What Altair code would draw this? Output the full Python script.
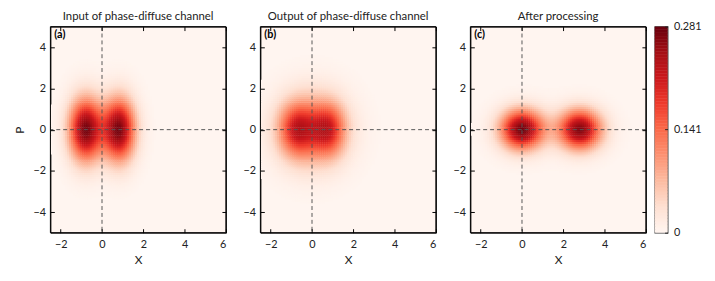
import altair as alt
import numpy as np
import pandas as pd

# ---- values ----
x_ticks = [-2, 0, 2, 4, 6]
p_ticks = [-4, -2, 0, 2, 4]
x_domain = [-2.5, 6]
p_domain = [-5, 5]
colorbar_values = [0, 0.141, 0.281]
panel_titles = ["Input of phase-diffuse channel",
                "Output of phase-diffuse channel",
                "After processing"]
panel_tags = ["(a)", "(b)", "(c)"]

# blob components per panel (centre X, centre P, width X, width P, peak)
a_cx = [-0.8, 0.8]
a_cp = [0.0, 0.0]
a_sx = [0.55, 0.55]
a_sp = [1.05, 1.05]
a_amp = [0.27, 0.27]

b_cx = [-0.8, 0.8, 0.0]
b_cp = [0.0, 0.0, 0.0]
b_sx = [0.55, 0.55, 1.1]
b_sp = [0.85, 0.85, 1.2]
b_amp = [0.12, 0.12, 0.14]

c_cx = [0.0, 2.8, 1.4]
c_cp = [0.0, 0.0, 0.0]
c_sx = [0.72, 0.72, 1.8]
c_sp = [0.66, 0.66, 0.9]
c_amp = [0.27, 0.26, 0.008]

# matplotlib "Reds" colour map
reds = ["#fff5f0", "#fee0d2", "#fcbba1", "#fc9272", "#fb6a4a",
        "#ef3b2c", "#cb181d", "#a50f15", "#67000d"]

cell = 0.1


def grid(cx, cp, sx, sp, amp):
    xs = np.arange(x_domain[0], x_domain[1], cell)
    ps = np.arange(p_domain[0], p_domain[1], cell)
    X, P = np.meshgrid(xs + cell / 2, ps + cell / 2)
    V = np.zeros_like(X)
    for a, b, s, t, h in zip(cx, cp, sx, sp, amp):
        V += h * np.exp(-(X - a) ** 2 / (2 * s * s) - (P - b) ** 2 / (2 * t * t))
    df = pd.DataFrame({"x0": (X - cell / 2).ravel(), "x1": (X + cell / 2 + 0.02).ravel(),
                       "p0": (P - cell / 2).ravel(), "p1": (P + cell / 2 + 0.02).ravel(),
                       "v": V.ravel()})
    return df[df.v > 0.0015].reset_index(drop=True)


frames = [grid(a_cx, a_cp, a_sx, a_sp, a_amp),
          grid(b_cx, b_cp, b_sx, b_sp, b_amp),
          grid(c_cx, c_cp, c_sx, c_sp, c_amp)]

FONT = "Lato"
xscale = alt.Scale(domain=x_domain, nice=False, zero=False)
yscale = alt.Scale(domain=p_domain, nice=False, zero=False)
vmax = colorbar_values[-1]
cscale = alt.Scale(domain=list(np.linspace(0, vmax, len(reds))), range=reds,
                   type="linear", interpolate="rgb")

common_axis = dict(tickSize=4, offset=-4, domain=False, grid=False, zindex=2,
                   tickColor="black", labelColor="#222", labelFontSize=11,
                   labelFont=FONT, titleFont=FONT, titleFontSize=12,
                   titleFontWeight="normal", titleColor="#222")


def panel(i):
    df = frames[i]
    bottom = alt.Axis(values=x_ticks, orient="bottom", labelPadding=6,
                      title="X", titlePadding=5, **common_axis)
    left = alt.Axis(values=p_ticks, orient="left", labelPadding=5,
                    title="P" if i == 0 else None, titlePadding=7,
                    **common_axis)
    top = alt.Axis(values=x_ticks, orient="top", labels=False, title=None,
                   **common_axis)
    right = alt.Axis(values=p_ticks, orient="right", labels=False, title=None,
                     **common_axis)

    rects = alt.Chart(df).mark_rect(clip=True).encode(
        x=alt.X("x0:Q", scale=xscale, axis=bottom),
        x2="x1:Q",
        y=alt.Y("p0:Q", scale=yscale, axis=left),
        y2="p1:Q",
        color=alt.Color("v:Q", scale=cscale, legend=None),
    )
    vline = alt.Chart(pd.DataFrame({"x": [0]})).mark_rule(
        strokeDash=[4, 3], color="#555", strokeWidth=1
    ).encode(x=alt.X("x:Q", scale=xscale, axis=top))
    hline = alt.Chart(pd.DataFrame({"p": [0]})).mark_rule(
        strokeDash=[4, 3], color="#555", strokeWidth=1
    ).encode(y=alt.Y("p:Q", scale=yscale, axis=right))
    frame = alt.Chart(pd.DataFrame({"a": [0]})).mark_rect(
        filled=False, stroke="black", strokeWidth=1
    ).encode(x=alt.X(datum=x_domain[0], scale=xscale, axis=None),
             x2=alt.X2(datum=x_domain[1]),
             y=alt.Y(datum=p_domain[0], scale=yscale, axis=None),
             y2=alt.Y2(datum=p_domain[1]))
    tag = alt.Chart(pd.DataFrame({"t": [panel_tags[i]]})).mark_text(
        align="left", baseline="middle", font=FONT, fontSize=11,
        fontWeight="bold", color="black"
    ).encode(x=alt.value(4), y=alt.value(9), text="t:N")

    return alt.layer(rects, vline, hline, frame, tag).properties(
        width=178, height=209,
        title=alt.TitleParams(panel_titles[i], font=FONT, fontSize=11.5,
                              fontWeight="normal", color="#222", offset=4,
                              frame="group", anchor="middle"),
    )


# colour bar: one thin cell per level of the colour scale
bar_step = vmax / 140
bar = pd.DataFrame({"lo": np.arange(0, vmax, bar_step)})
bar["hi"] = np.minimum(bar["lo"] + bar_step * 1.3, vmax)
bar["v"] = bar["lo"] + bar_step / 2

colorbar = alt.Chart(bar).mark_rect().encode(
    x=alt.value(0), x2=alt.value(13),
    y=alt.Y("lo:Q", scale=alt.Scale(domain=[0, vmax], nice=False, zero=False),
            axis=alt.Axis(orient="right", values=colorbar_values,
                          format=".3~f", tickSize=3, offset=-3, domain=False,
                          grid=False, tickColor="#222", labelColor="#222",
                          labelFont=FONT, labelFontSize=11, labelPadding=6,
                          title=None, zindex=2)),
    y2="hi:Q",
    color=alt.Color("v:Q", scale=cscale, legend=None),
).properties(width=13, height=209,
             view=alt.ViewConfig(stroke="#333", strokeWidth=1.2))

panels = alt.hconcat(panel(0), panel(1), panel(2), spacing=15)
chart = alt.hconcat(panels, colorbar, spacing=7).resolve_scale(
    color="shared"
).properties(
    padding={"left": 4, "top": 0, "right": 5, "bottom": 5}
).configure_view(stroke="black", strokeWidth=1, fill="#fff5f0")

chart.save("out.html", embed_options={"renderer": "svg", "actions": False})
